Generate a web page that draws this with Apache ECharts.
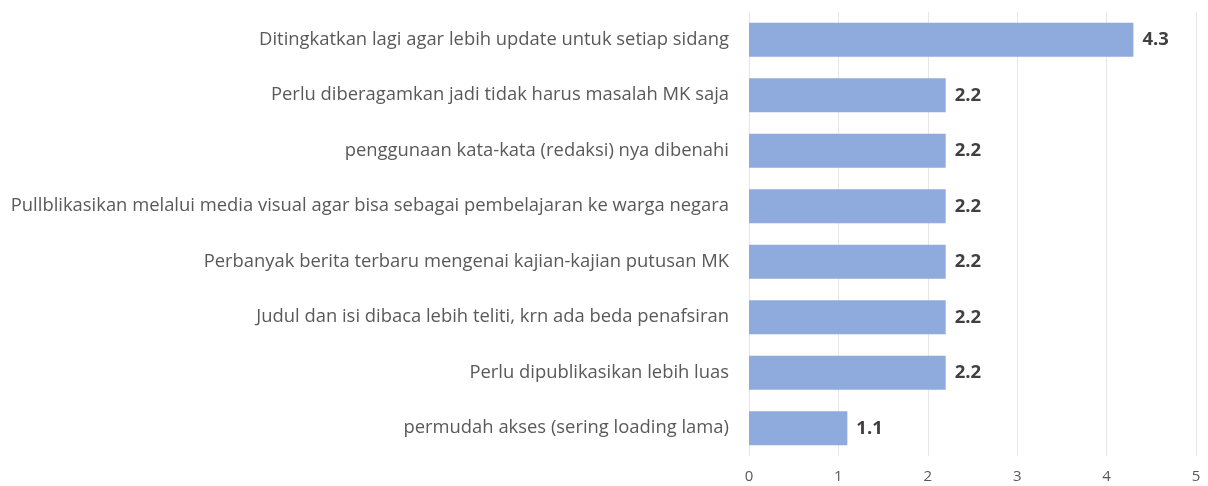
<!DOCTYPE html>
<html>
<head>
<meta charset="utf-8">
<script src="https://cdn.jsdelivr.net/npm/echarts@6/dist/echarts.min.js"></script>
<style>
  html, body { margin: 0; padding: 0; background: #fff; }
  #chart { width: 1208px; height: 486px; }
</style>
</head>
<body>
<div id="chart"></div>
<script>
// data, top to bottom as in the picture
const categories = [
  'Ditingkatkan lagi agar lebih update untuk setiap sidang',
  'Perlu diberagamkan jadi tidak harus masalah MK saja',
  'penggunaan kata-kata (redaksi) nya dibenahi',
  'Pullblikasikan melalui media visual agar bisa sebagai pembelajaran ke warga negara',
  'Perbanyak berita terbaru mengenai kajian-kajian putusan MK',
  'Judul dan isi dibaca lebih teliti, krn ada beda penafsiran',
  'Perlu dipublikasikan lebih luas',
  'permudah akses (sering loading lama)'
];
const values = [4.3, 2.2, 2.2, 2.2, 2.2, 2.2, 2.2, 1.1];

const chart = echarts.init(document.getElementById('chart'));

const option = {
  animation: false,
  textStyle: { fontFamily: 'Open Sans' },
  grid: {
    left: 749,
    right: 12,
    top: 12,
    bottom: 30
  },
  xAxis: {
    type: 'value',
    min: 0,
    max: 5,
    interval: 1,
    axisLine: { show: false },
    axisTick: { show: false },
    splitLine: { show: true, lineStyle: { color: '#E6E6E6', width: 1 } },
    axisLabel: { color: '#595959', fontSize: 15, margin: 13 }
  },
  yAxis: {
    type: 'category',
    inverse: true,
    data: categories,
    axisLine: { show: false },
    axisTick: { show: false },
    axisLabel: { color: '#595959', fontSize: 18.4, margin: 20 }
  },
  series: [{
    type: 'bar',
    data: values,
    barCategoryGap: '39%',
    itemStyle: { color: '#8FAADC' },
    label: {
      show: true,
      position: 'right',
      distance: 9,
      color: '#404040',
      fontSize: 18.5,
      fontWeight: 'bold'
    }
  }]
};

chart.setOption(option);
</script>
</body>
</html>
